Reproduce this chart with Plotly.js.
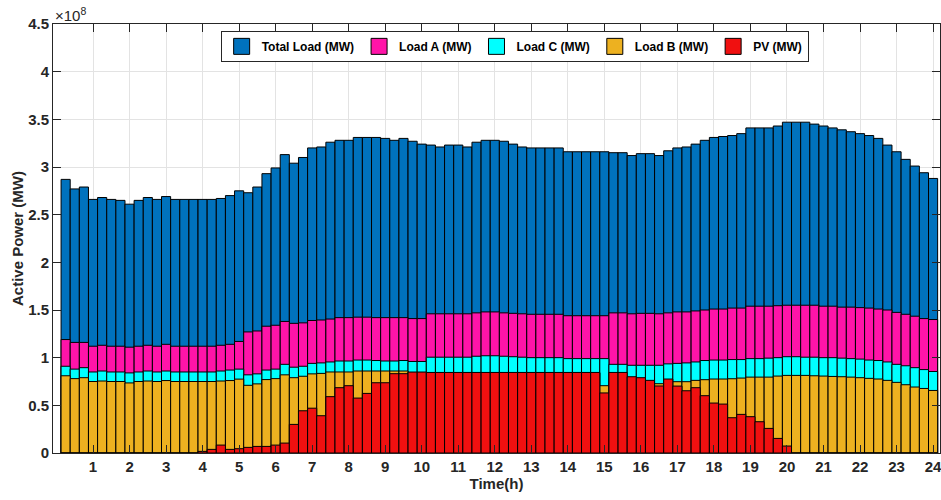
<!DOCTYPE html>
<html>
<head>
<meta charset="utf-8">
<script src="https://cdn.plot.ly/plotly-3.0.1.min.js"></script>
<style>html,body{margin:0;padding:0;background:#fff;}#chart{width:941px;height:500px;}</style>
</head>
<body>
<div id="chart"></div>
<script>
// values in units of 1e8 MW, one per 15-minute interval (96 intervals)
var totalLoad = [2.87,2.77,2.79,2.66,2.68,2.66,2.65,2.61,2.65,2.68,2.66,2.69,2.66,2.66,2.66,2.66,2.66,2.67,2.70,2.75,2.73,2.79,2.93,2.99,3.13,3.04,3.10,3.20,3.21,3.26,3.28,3.28,3.31,3.31,3.31,3.30,3.28,3.30,3.27,3.24,3.23,3.21,3.23,3.23,3.21,3.26,3.28,3.28,3.27,3.24,3.21,3.20,3.20,3.20,3.20,3.16,3.16,3.16,3.16,3.16,3.15,3.15,3.12,3.14,3.14,3.12,3.17,3.20,3.21,3.24,3.28,3.31,3.32,3.33,3.35,3.41,3.41,3.41,3.43,3.47,3.47,3.47,3.45,3.43,3.41,3.39,3.37,3.35,3.33,3.30,3.23,3.16,3.08,3.01,2.94,2.88];
var loadA = [1.19,1.16,1.16,1.12,1.13,1.12,1.12,1.11,1.12,1.13,1.12,1.14,1.12,1.12,1.12,1.12,1.12,1.13,1.14,1.17,1.27,1.28,1.33,1.34,1.38,1.36,1.365,1.39,1.395,1.405,1.42,1.42,1.425,1.425,1.42,1.42,1.42,1.42,1.41,1.41,1.46,1.46,1.46,1.46,1.46,1.47,1.48,1.48,1.47,1.465,1.46,1.455,1.455,1.455,1.455,1.44,1.44,1.44,1.44,1.44,1.47,1.47,1.46,1.465,1.465,1.46,1.47,1.48,1.48,1.49,1.50,1.51,1.51,1.52,1.52,1.54,1.54,1.54,1.545,1.55,1.55,1.55,1.55,1.54,1.54,1.53,1.53,1.525,1.52,1.51,1.50,1.475,1.455,1.435,1.41,1.40];
var loadC = [0.91,0.88,0.895,0.85,0.86,0.85,0.85,0.84,0.85,0.86,0.85,0.86,0.85,0.85,0.85,0.85,0.85,0.86,0.87,0.88,0.82,0.83,0.87,0.88,0.93,0.90,0.91,0.94,0.945,0.955,0.965,0.965,0.975,0.975,0.97,0.965,0.965,0.97,0.96,0.96,1.005,1.005,1.005,1.005,1.005,1.015,1.02,1.02,1.015,1.01,1.005,1.0,1.0,1.0,1.0,0.99,0.99,0.99,0.99,0.99,0.93,0.93,0.92,0.92,0.92,0.92,0.935,0.94,0.945,0.955,0.97,0.975,0.975,0.98,0.98,0.99,0.99,0.995,1.0,1.01,1.01,1.005,1.005,1.0,1.0,0.995,0.99,0.985,0.975,0.97,0.955,0.93,0.915,0.895,0.875,0.855];
var loadB = [0.81,0.78,0.79,0.75,0.755,0.75,0.75,0.735,0.75,0.755,0.75,0.76,0.75,0.75,0.75,0.75,0.75,0.755,0.76,0.775,0.71,0.725,0.77,0.78,0.82,0.79,0.805,0.83,0.835,0.85,0.85,0.85,0.86,0.86,0.86,0.86,0.86,0.86,0.845,0.845,0.84,0.84,0.84,0.84,0.84,0.84,0.84,0.84,0.84,0.84,0.84,0.84,0.84,0.84,0.84,0.84,0.84,0.84,0.84,0.706,0.72,0.72,0.72,0.72,0.72,0.727,0.735,0.748,0.748,0.762,0.769,0.776,0.776,0.779,0.786,0.796,0.796,0.796,0.807,0.814,0.814,0.814,0.81,0.807,0.803,0.80,0.796,0.79,0.783,0.776,0.762,0.741,0.716,0.692,0.677,0.656];
var pv = [0,0,0,0,0,0,0,0,0,0,0,0,0,0,0,0.017,0.038,0.083,0.038,0.045,0.059,0.069,0.069,0.083,0.104,0.30,0.443,0.47,0.391,0.591,0.685,0.706,0.576,0.625,0.737,0.737,0.832,0.832,0.849,0.849,0.845,0.845,0.845,0.845,0.845,0.845,0.845,0.845,0.845,0.845,0.845,0.845,0.845,0.845,0.845,0.845,0.845,0.845,0.845,0.63,0.845,0.845,0.80,0.79,0.762,0.703,0.776,0.702,0.653,0.685,0.601,0.524,0.513,0.37,0.405,0.381,0.328,0.258,0.153,0.073,0,0,0,0,0,0,0,0,0,0,0,0,0,0,0,0];
var seriesNames = ['Total Load (MW)','Load A (MW)','Load C (MW)','Load B (MW)','PV (MW)'];
var seriesColors = ['#0072BD','#FF14A8','#00FFFF','#EDB120','#F01010'];
var xTicks = [1,2,3,4,5,6,7,8,9,10,11,12,13,14,15,16,17,18,19,20,21,22,23,24];
var yTicks = [0,0.5,1,1.5,2,2.5,3,3.5,4,4.5];
var yTickText = ['0','0.5','1','1.5','2','2.5','3','3.5','4','4.5'];

var time = [];
for (var i = 1; i <= totalLoad.length; i++) time.push(i * 0.25);

var allSeries = [totalLoad, loadA, loadC, loadB, pv];
var traces = [];
allSeries.forEach(function (vals, k) {
  traces.push({
    type: 'bar', x: time, y: vals, width: 0.25, name: seriesNames[k],
    showlegend: false,
    marker: {color: seriesColors[k], line: {color: '#000000', width: 1}},
    hoverinfo: 'x+y+name'
  });
});
seriesNames.forEach(function (n, k) {
  traces.push({
    type: 'scatter', mode: 'markers', x: [null], y: [null], name: n,
    marker: {symbol: 'square', size: 18, color: seriesColors[k], line: {color: '#000000', width: 1}}
  });
});

var axisFont = {family: 'Liberation Sans, Arial, sans-serif', size: 15, color: '#262626', weight: 'bold'};
var layout = {
  width: 941, height: 500,
  margin: {l: 53, r: 1, t: 24, b: 47, pad: 0},
  paper_bgcolor: '#ffffff', plot_bgcolor: '#ffffff',
  barmode: 'overlay', bargap: 0,
  showlegend: true,
  legend: {
    orientation: 'h', x: 0.189, xanchor: 'left', y: 0.984, yanchor: 'top',
    bgcolor: '#ffffff', bordercolor: '#262626', borderwidth: 1,
    font: {family: 'Liberation Sans, Arial, sans-serif', size: 12, color: '#000000', weight: 'bold'},
    itemwidth: 30
  },
  xaxis: {
    range: [-0.096, 24.19], tickvals: xTicks, ticktext: xTicks.map(String),
    ticks: 'inside', ticklen: 8, tickcolor: '#262626', tickwidth: 1,
    showline: true, linecolor: '#262626', linewidth: 1, mirror: 'allticks',
    showgrid: true, gridcolor: '#e3e3e3', gridwidth: 1, zeroline: false,
    tickfont: axisFont, ticklabeloverflow: 'allow',
    title: {text: 'Time(h)', font: axisFont, standoff: 4}
  },
  yaxis: {
    range: [0, 4.5], tickvals: yTicks, ticktext: yTickText,
    ticks: 'inside', ticklen: 8, tickcolor: '#262626', tickwidth: 1,
    showline: true, linecolor: '#262626', linewidth: 1, mirror: 'allticks',
    showgrid: true, gridcolor: '#e3e3e3', gridwidth: 1, zeroline: false,
    tickfont: axisFont, ticklabeloverflow: 'allow',
    title: {text: 'Active Power (MW)', font: axisFont, standoff: 0}
  },
  annotations: [{
    xref: 'paper', yref: 'paper', x: 0, y: 1, xanchor: 'left', yanchor: 'bottom',
    text: '×10<sup>8</sup>', showarrow: false, yshift: -2,
    font: {family: 'Liberation Sans, Arial, sans-serif', size: 15, color: '#262626'}
  }]
};
Plotly.newPlot('chart', traces, layout, {displayModeBar: false, staticPlot: true});
</script>
</body>
</html>
